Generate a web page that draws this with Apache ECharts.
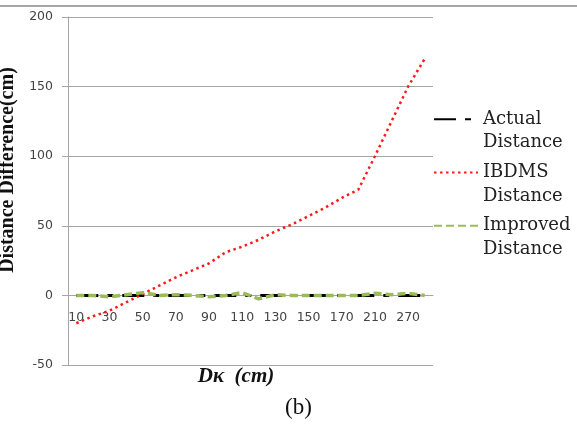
<!DOCTYPE html>
<html>
<head>
<meta charset="utf-8">
<script src="https://cdn.jsdelivr.net/npm/echarts@6/dist/echarts.min.js"></script>
<style>
html,body{margin:0;padding:0;background:#fff;}
#chart{width:577px;height:432px;}
</style>
</head>
<body>
<div id="chart"></div>
<script>
const categories = ['10','20','30','40','50','60','70','80','90','100','110','120','130','140','150','160','170','180','210','240','270','300'];
const actualDistance = [0,0,0,0,0,0,0,0,0,0,0,0,0,0,0,0,0,0,0,0,0,0];
const ibdmsDistance = [-20,-15,-11,-5,1,7,13,18,23,31,35,40,46,51,57,63,70,76,100,125,150,170];
const improvedDistance = [0,0,-1,0.5,2,0,0.5,0,-1,0,2,-2.5,0.5,0,0,0,0,0,1.5,0.5,1.5,0];
const yTicks = {min:-50, max:200, interval:50};

const chart = echarts.init(document.getElementById('chart'), null, {renderer:'canvas'});
const tickFont = {color:'#444', fontFamily:'DejaVu Sans', fontSize:12.5};
const legendText = {fontFamily:'DejaVu Serif', fontSize:18, color:'#222', lineHeight:23.5};
function mkLegend(name, top){
  return {data:[name], left:433, top:top, padding:0, orient:'vertical', itemWidth:44, itemHeight:12,
    itemStyle:{opacity:0},
    formatter: n => ' \n' + n.replace(' ', '\n'), textStyle: legendText, selectedMode:false};
}
const gridTop = 17, gridBottomY = 365;
const zeroY = gridTop + (gridBottomY - gridTop) * yTicks.max / (yTicks.max - yTicks.min);
chart.setOption({
  animation:false,
  grid:{left:68, right:144, top:gridTop, bottom:432-gridBottomY, containLabel:false, outerBoundsMode:'none'},
  legend:[mkLegend('Actual Distance',84), mkLegend('IBDMS Distance',137.3), mkLegend('Improved Distance',190.5)],
  xAxis:{type:'category', data:categories, boundaryGap:true, offset:-(gridBottomY - zeroY),
    axisLine:{onZero:false, lineStyle:{color:'#a6a6a6'}}, axisTick:{show:false},
    axisLabel:Object.assign({interval:1, margin:16}, tickFont),
    name:'Dκ  (cm)', nameLocation:'middle', nameGap:71,
    nameTextStyle:{fontFamily:'Liberation Serif', fontStyle:'italic', fontWeight:'bold', fontSize:21, color:'#111', padding:[0,29,0,0]}},
  yAxis:{type:'value', min:yTicks.min, max:yTicks.max, interval:yTicks.interval,
    axisLine:{show:true, lineStyle:{color:'#a6a6a6'}}, axisTick:{show:true, length:6, lineStyle:{color:'#a6a6a6'}},
    splitLine:{lineStyle:{color:'#a6a6a6', width:1}},
    axisLabel:Object.assign({margin:15}, tickFont),
    name:'Distance Difference(cm)', nameLocation:'middle', nameGap:40, nameRotate:90,
    nameTextStyle:{fontFamily:'Liberation Serif', fontWeight:'bold', fontSize:20, color:'#111', padding:[0,0,0,42]}},
  series:[
    {name:'Actual Distance', type:'line', data:actualDistance, symbol:'none',
      lineStyle:{color:'#000', width:3, type:[22,9,6,9]}, itemStyle:{color:'#000'}},
    {name:'IBDMS Distance', type:'line', data:ibdmsDistance, symbol:'none',
      lineStyle:{color:'#ff1a1a', width:2.5, type:[2.5,3.5]}, itemStyle:{color:'#ff1a1a'}},
    {name:'Improved Distance', type:'line', data:improvedDistance, symbol:'none',
      lineStyle:{color:'#9bbb59', width:3.5, type:[8,4]}, itemStyle:{color:'#9bbb59'}}
  ],
  graphic:[
    {type:'line', shape:{x1:0,y1:6,x2:577,y2:6}, style:{stroke:'#888', lineWidth:1.5}},
    {type:'text', left:285, top:396, style:{text:'(b)', fontFamily:'Liberation Serif', fontSize:23, fill:'#111'}}
  ]
});
</script>
</body>
</html>
